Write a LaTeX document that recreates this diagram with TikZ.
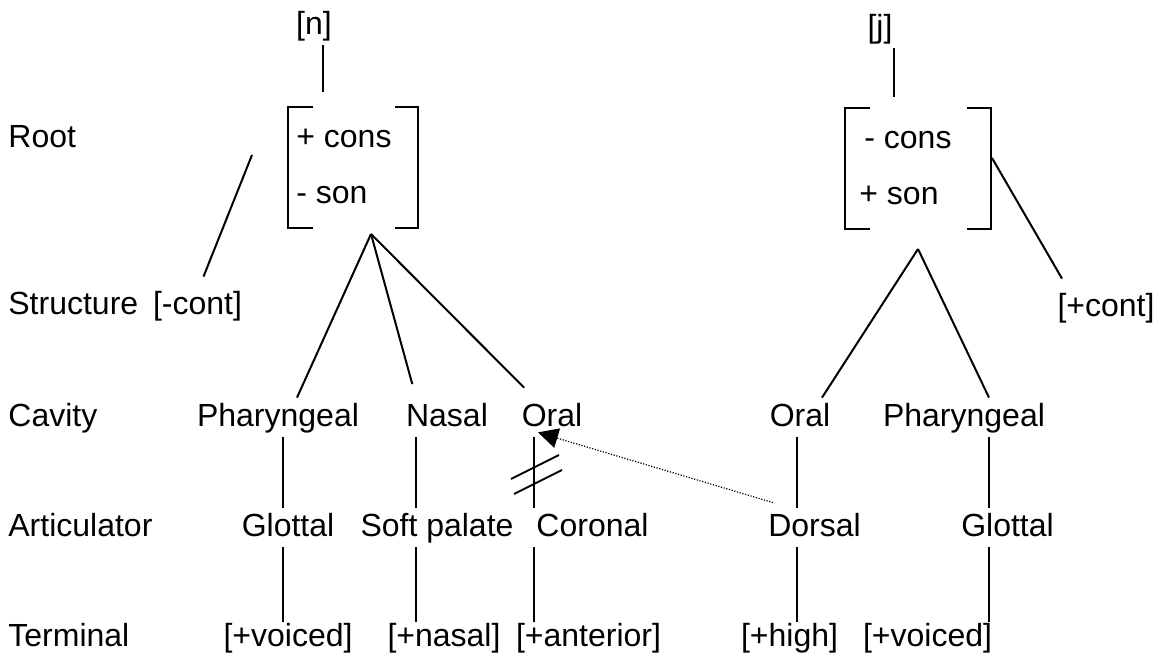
\documentclass[tikz,border=0pt]{standalone}
\usepackage{fontspec}
\setmainfont{Liberation Sans}
\usetikzlibrary{positioning,arrows.meta}

\begin{document}
\begin{tikzpicture}[x=0.5pt, y=-0.5pt,
  every node/.style={font=\fontsize{16}{18}\selectfont, inner sep=0pt},
  tier/.style={anchor=base west},
  seg/.style={anchor=base, text height=14.5pt, text depth=5pt},
  term/.style={anchor=base, text height=12pt, text depth=5pt},
  ln/.style={line width=1pt},
  spread/.style={ln, shorten >=7pt}
]
\useasboundingbox (0,0) rectangle (1160,656);

% tiers
\node[tier] (lroot)  at (8,148) {Root};
\node[tier] (lstruc) at (8,315) {Structure};
\node[tier] (lcav)   at (8,427) {Cavity};
\node[tier] (lart)   at (8,537) {Articulator};
\node[tier] (lterm)  at (8,646) {Terminal};

% [n]
\node[seg] (nseg) at (314,35) {[n]};
\node[anchor=base west] (ncons) at (296,148) {+ cons};
\node[anchor=base west] (nson)  at (296,204) {- son};
\draw[ln] (313,107) -| (288,228) -- (313,228);
\draw[ln] (395,107) -| (418,228) -- (395,228);
\coordinate (ntop) at (323,92);
\coordinate (napex) at (371,234);
\coordinate (nleft) at (252,155);
\node[seg] (mcont) at (197.5,315) {[-cont]};

\node[seg] (phar1) at (278,427) {Pharyngeal};
\node[seg] (nas1)  at (447,427) {Nasal};
\node[seg] (ora1)  at (552,427) {Oral};
\node[seg] (glo1)  at (288,537) {Glottal};
\node[seg] (soft)  at (437,537) {Soft palate};
\node[seg] (cor)   at (592.5,537) {Coronal};
\node[term] (voi1) at (288,646) {[+voiced]};
\node[term] (nasf) at (444,646) {[+nasal]};
\node[term] (ant)  at (588.5,646) {[+anterior]};

% [j]
\node[seg] (jseg) at (880,38) {[j]};
\node[anchor=base west] (jcons) at (864,149) {- cons};
\node[anchor=base west] (json)  at (859,205) {+ son};
\draw[ln] (870,108) -| (845,229) -- (870,229);
\draw[ln] (967,108) -| (991,229) -- (967,229);
\coordinate (jtop) at (894,97);
\coordinate (japex) at (918,249);
\coordinate (jright) at (992,158);
\node[seg] (pcont) at (1106,317) {[+cont]};

\node[seg] (ora2)  at (800,427) {Oral};
\node[seg] (pha2)  at (964,427) {Pharyngeal};
\node[seg] (dors)  at (814.5,537) {Dorsal};
\node[seg] (glo2)  at (1007.5,537) {Glottal};
\node[term] (high) at (789.5,646) {[+high]};
\node[term] (voi2) at (927.5,646) {[+voiced]};

% columns
\coordinate (c1) at (283,0);
\coordinate (c2) at (416,0);
\coordinate (c3) at (534,0);
\coordinate (c4) at (797,0);
\coordinate (c5) at (989,0);

% association lines
\draw[ln] (ntop |- nseg.south) -- (ntop);
\draw[ln] (jtop |- jseg.south) -- (jtop);
\draw[ln] (nleft) -- ([xshift=3pt,yshift=4.5pt]mcont.north);
\draw[ln] (jright) -- ([xshift=-22pt,yshift=4.5pt]pcont.north);
\draw[ln] (napex) -- ([xshift=9.5pt]phar1.north);
\draw[spread] (napex) -- (nas1.north -| c2);
\draw[spread] (napex) -- (ora1.north -| c3);
\draw[ln] (japex) -- ([xshift=11pt]ora2.north);
\draw[ln] (japex) -- (pha2.north -| c5);
\foreach \a/\b/\c in {phar1/glo1/c1, nas1/soft/c2, ora1/cor/c3, ora2/dors/c4, pha2/glo2/c5,
                      glo1/voi1/c1, soft/nasf/c2, cor/ant/c3, dors/high/c4, glo2/voi2/c5}
  \draw[line width=0.8pt] (\a.south -| \c) -- (\b.north -| \c);

% delinking
\draw[ln] (511,479) -- (559,455);
\draw[ln] (514,494) -- (562,470);

% spreading of Dorsal
\draw[line width=0.6pt, dash pattern=on 0.6pt off 0.8pt, -{Triangle[length=10pt,width=10pt]}]
  ([xshift=-20.75pt,yshift=2.5pt]dors.north) -- ([xshift=2pt,yshift=2.5pt]ora1.south -| c3);
\end{tikzpicture}
\end{document}
